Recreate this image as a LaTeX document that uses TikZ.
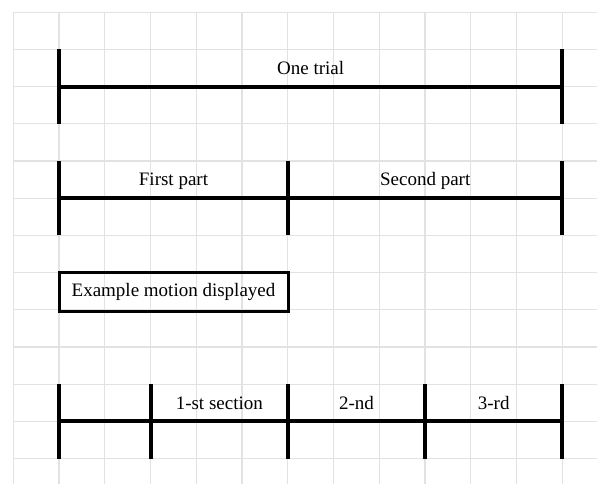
\documentclass[tikz,border=0pt]{standalone}
\usepackage{fontspec}
\setmainfont{Liberation Serif}
\definecolor{gridgray}{HTML}{E2E2E2}
\begin{document}
\begin{tikzpicture}[x=1pt,y=-1pt,
  bar/.style={line width=4pt, black, line cap=butt},
  gridline/.style={draw=gridgray, line width=1.2pt},
  lbl/.style={font=\fontsize{19}{21}\selectfont, inner sep=0pt, anchor=base},
  exbox/.style={draw=black, line width=3pt, minimum width=229pt, minimum height=38.5pt, inner sep=0pt, font=\fontsize{19}{21}\selectfont}]
\useasboundingbox (0,0) rectangle (597,484);
\fill[white] (0,0) rectangle (597,484);
% spreadsheet grid
\foreach \i in {0,...,12} {
  \draw[gridline] ({13.3+45.75*\i},12.3) -- ({13.3+45.75*\i},484);
  \draw[gridline] (13.3,{12.3+37.18*\i}) -- (597,{12.3+37.18*\i});
}
% ---- row 1: One trial
\coordinate (r1at) at (59.05,49.5);  \coordinate (r1ab) at (59.05,123.8);  \coordinate (r1am) at (59.05,86.6);
\coordinate (r1bt) at (562.3,49.5);  \coordinate (r1bb) at (562.3,123.8);  \coordinate (r1bm) at (562.3,86.6);
\draw[bar] (r1at) -- (r1ab);
\draw[bar] (r1bt) -- (r1bb);
\draw[bar] (r1am) -- (r1bm);
\node[lbl] (onetrial) at (310.7,74.5) {One trial};
% ---- row 2: First / Second part
\coordinate (r2at) at (59.05,161);  \coordinate (r2ab) at (59.05,235.4);  \coordinate (r2am) at (59.05,198.2);
\coordinate (r2bt) at (288.05,161); \coordinate (r2bb) at (288.05,235.4); \coordinate (r2bm) at (288.05,198.2);
\coordinate (r2ct) at (562.3,161);  \coordinate (r2cb) at (562.3,235.4);  \coordinate (r2cm) at (562.3,198.2);
\draw[bar] (r2at) -- (r2ab);
\draw[bar] (r2bt) -- (r2bb);
\draw[bar] (r2ct) -- (r2cb);
\draw[bar] (r2am) -- (r2cm);
\node[lbl] (first) at (173.5,185) {First part};
\node[lbl] (second) at (425.2,185) {Second part};
% ---- row 3: box
\node[exbox] (example) at (173.5,291.8) {Example motion displayed};
% ---- row 4: sections
\coordinate (r4at) at (59.05,384.2);  \coordinate (r4ab) at (59.05,458.6);  \coordinate (r4am) at (59.05,421.4);
\coordinate (r4bt) at (150.55,384.2); \coordinate (r4bb) at (150.55,458.6); \coordinate (r4bm) at (150.55,421.4);
\coordinate (r4ct) at (288.05,384.2); \coordinate (r4cb) at (288.05,458.6); \coordinate (r4cm) at (288.05,421.4);
\coordinate (r4dt) at (425.05,384.2); \coordinate (r4db) at (425.05,458.6); \coordinate (r4dm) at (425.05,421.4);
\coordinate (r4et) at (562.3,384.2);  \coordinate (r4eb) at (562.3,458.6);  \coordinate (r4em) at (562.3,421.4);
\draw[bar] (r4at) -- (r4ab);
\draw[bar] (r4bt) -- (r4bb);
\draw[bar] (r4ct) -- (r4cb);
\draw[bar] (r4dt) -- (r4db);
\draw[bar] (r4et) -- (r4eb);
\draw[bar] (r4am) -- (r4em);
\node[lbl] (sec1) at (219.3,409.3) {1-st section};
\node[lbl] (sec2) at (356.5,409.3) {2-nd};
\node[lbl] (sec3) at (493.7,409.3) {3-rd};
\end{tikzpicture}
\end{document}
